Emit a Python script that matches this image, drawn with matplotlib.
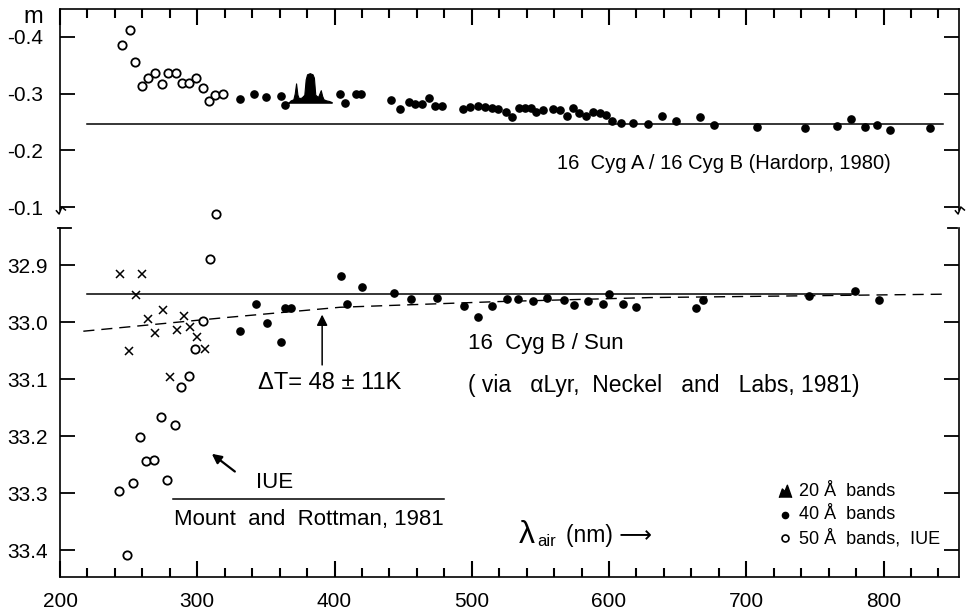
import matplotlib
matplotlib.use("Agg")
import matplotlib.pyplot as plt

plt.rcParams['font.family'] = ['Liberation Sans', 'DejaVu Sans']
plt.rcParams.update({
    'xtick.direction': 'in', 'ytick.direction': 'in',
    'ytick.major.size': 11, 'ytick.major.width': 1.3,
    'xtick.labelsize': 15, 'ytick.labelsize': 15,
})

# ---- upper panel: 16 Cyg A / 16 Cyg B ----
top_open_wl = [245, 251, 255, 260, 264, 269, 274, 279, 284.5, 289, 294, 299, 304, 308.5, 313, 319]
top_open_m = [-0.385, -0.412, -0.356, -0.314, -0.327, -0.336, -0.317, -0.337, -0.337, -0.318,
              -0.319, -0.327, -0.309, -0.287, -0.298, -0.299]

top_fill_wl = [331, 341.5, 350, 361, 364, 404, 408, 415.5, 419.5, 441.5, 448, 454, 459, 463.5,
               468.5, 473.5, 478.5, 493.5, 499, 504.5, 509.5, 514.5, 519, 525, 529.5, 534.5,
               538.5, 543, 547, 552, 559.5, 564, 569.5, 573.5, 578.5, 583, 588.5, 593.5, 597.5,
               602.5, 609, 617.5, 628.5, 638.5, 648.5, 666, 676.5, 708, 742.5, 766, 776.5,
               786.5, 795.5, 805, 834]
top_fill_m = [-0.290, -0.299, -0.294, -0.296, -0.280, -0.299, -0.284, -0.299, -0.299, -0.289,
              -0.272, -0.285, -0.281, -0.282, -0.292, -0.278, -0.278, -0.273, -0.276, -0.279,
              -0.277, -0.274, -0.272, -0.268, -0.258, -0.275, -0.274, -0.275, -0.267, -0.271,
              -0.272, -0.271, -0.261, -0.274, -0.265, -0.261, -0.268, -0.265, -0.262, -0.252,
              -0.248, -0.248, -0.247, -0.261, -0.252, -0.258, -0.244, -0.242, -0.240, -0.243,
              -0.255, -0.241, -0.245, -0.236, -0.240]

# 20 A bands profile
band_wl = [366, 368, 370, 371, 372, 373, 374, 376, 378, 379, 380, 382, 384, 385, 386, 388,
           389, 390, 391, 392, 394, 396, 398]
band_m = [-0.283, -0.288, -0.290, -0.300, -0.318, -0.298, -0.292, -0.293, -0.298, -0.325,
          -0.334, -0.336, -0.334, -0.328, -0.298, -0.294, -0.300, -0.306, -0.296, -0.290,
          -0.288, -0.287, -0.285]
band_base = -0.284

top_ref_wl = [220, 843]
top_ref_m = [-0.246, -0.246]

# ---- lower panel: 16 Cyg B / Sun ----
cross_wl = [244, 259.5, 255.5, 264, 275, 290, 269.5, 285, 294.5, 299.5, 250.5, 305.5, 280]
cross_m = [32.915, 32.915, 32.953, 32.995, 32.978, 32.989, 33.020, 33.014, 33.008, 33.026,
           33.050, 33.048, 33.096]

iue_wl = [314, 309, 304, 298.5, 294, 288, 273.5, 284, 258.5, 263, 268.5, 253.5, 278, 243, 248.5]
iue_m = [32.810, 32.890, 32.998, 33.048, 33.095, 33.113, 33.166, 33.181, 33.202, 33.243,
         33.242, 33.282, 33.277, 33.296, 33.409]

sun_wl = [331, 343, 350.5, 361, 364, 368, 405, 409, 420, 443, 455.5, 475, 494.5, 504.5, 514.5,
          525.5, 534, 544.5, 554.5, 567, 574.5, 584.5, 595.5, 600, 610, 619.5, 663.5, 668.5,
          745.5, 779.5, 797]
sun_m = [33.015, 32.969, 33.002, 33.035, 32.976, 32.976, 32.919, 32.968, 32.938, 32.949,
         32.959, 32.957, 32.972, 32.991, 32.971, 32.960, 32.960, 32.963, 32.957, 32.961,
         32.970, 32.963, 32.968, 32.951, 32.968, 32.974, 32.976, 32.961, 32.954, 32.946, 32.961]

sun_ref_wl = [220, 780]
sun_ref_m = [32.950, 32.950]
fit_wl = [217, 321, 404, 520, 630, 846]
fit_m = [33.016, 32.992, 32.974, 32.964, 32.957, 32.951]

mount_wl = [282, 480]
mount_m = [33.310, 33.310]

xticks = [200, 300, 400, 500, 600, 700, 800]
xticks_minor = [220, 240, 260, 280, 320, 340, 360, 380, 420, 440, 460, 480, 520, 540, 560, 580,
                620, 640, 660, 680, 720, 740, 760, 780, 820, 840]
top_yticks = [-0.4, -0.3, -0.2, -0.1]
top_ylabels = ['-0.4', '-0.3', '-0.2', '-0.1']
bot_yticks = [32.9, 33.0, 33.1, 33.2, 33.3, 33.4]
bot_ylabels = ['32.9', '33.0', '33.1', '33.2', '33.3', '33.4']

W, H = 966, 616
top_h, bot_h = 201, 349
fig = plt.figure(figsize=(W / 100, H / 100), dpi=100)
ax_top = fig.add_axes([60 / W, 1 - 210 / H, 899 / W, top_h / H])
ax_bot = fig.add_axes([60 / W, 1 - 577 / H, 899 / W, bot_h / H])

# upper panel
ax_top.plot(top_ref_wl, top_ref_m, color='black', lw=1.1)
ax_top.fill_between(band_wl, band_m, band_base, color='black', lw=0.8)
ax_top.plot(top_open_wl, top_open_m, 'o', ms=6, mfc='white', mec='black', mew=1.3)
ax_top.plot(top_fill_wl, top_fill_m, 'o', ms=5.2, color='black')
ax_top.text(562, -0.177, '16  Cyg A / 16 Cyg B (Hardorp, 1980)', fontsize=14.5, va='center')

# lower panel
ax_bot.plot(sun_ref_wl, sun_ref_m, color='black', lw=1.1)
ax_bot.plot(fit_wl, fit_m, color='black', lw=1.0, dashes=(8, 5))
ax_bot.plot(cross_wl, cross_m, 'x', ms=5.5, mew=1.1, color='black')
ax_bot.plot(iue_wl, iue_m, 'o', ms=6, mfc='white', mec='black', mew=1.3, clip_on=False)
ax_bot.plot(sun_wl, sun_m, 'o', ms=5.2, color='black')
ax_bot.plot(mount_wl, mount_m, color='black', lw=1.1)

ax_bot.annotate('', xy=(391, 32.982), xytext=(391, 33.080),
                arrowprops=dict(arrowstyle='-|>', color='black', lw=1.1, mutation_scale=16))
ax_bot.text(344, 33.107, '\u0394T= 48 \u00b1 11K', fontsize=17, va='center')
ax_bot.text(497, 33.038, '16  Cyg B / Sun', fontsize=16, va='center')
ax_bot.text(497, 33.111, '( via   \u03b1Lyr,  Neckel   and   Labs, 1981)', fontsize=16.5,
            va='center')
ax_bot.annotate('', xy=(309, 33.228), xytext=(329, 33.265),
                arrowprops=dict(arrowstyle='-|>', color='black', lw=1.6, mutation_scale=14))
ax_bot.text(356, 33.281, 'IUE', fontsize=16, va='center', ha='center')
ax_bot.text(381, 33.347, 'Mount  and  Rottman, 1981', fontsize=16, va='center', ha='center')
ax_bot.text(0.51, 0.12, '\u03bb', fontsize=23, transform=ax_bot.transAxes, va='center')
ax_bot.text(0.531, 0.103, 'air', fontsize=12, transform=ax_bot.transAxes, va='center')
ax_bot.text(0.563, 0.12, '(nm) \u27f6', fontsize=16.5, transform=ax_bot.transAxes, va='center')

# legend
ax_bot.plot([0.806], [0.246], marker=[(-1, -1), (-0.5, 0.4), (-0.1, 0.0), (0.3, 1), (1, -1)],
            ms=9, color='black', transform=ax_bot.transAxes)
ax_bot.plot([0.806], [0.178], 'o', ms=4.5, color='black', transform=ax_bot.transAxes)
ax_bot.plot([0.806], [0.112], 'o', ms=5, mfc='white', mec='black', mew=1.2,
            transform=ax_bot.transAxes)
ax_bot.text(0.822, 0.246, '20 \u00c5  bands', fontsize=13, transform=ax_bot.transAxes, va='center')
ax_bot.text(0.822, 0.178, '40 \u00c5  bands', fontsize=13, transform=ax_bot.transAxes, va='center')
ax_bot.text(0.822, 0.112, '50 \u00c5  bands,  IUE', fontsize=13, transform=ax_bot.transAxes,
            va='center')

fig.text(33 / W, 1 - 17 / H, 'm', fontsize=17, ha='center', va='center')

# axes styling
ax_top.set_ylim(-0.095, -0.449)
ax_bot.set_ylim(33.447, 32.835)
for ax in (ax_top, ax_bot):
    ax.set_xlim(200, 855)
    ax.set_xticks(xticks)
    for s in ax.spines.values():
        s.set_linewidth(1.2)
    ax.yaxis.set_ticks_position('both')
    ax.tick_params(axis='y', pad=38)
    ax.tick_params(axis='x', length=0)

ax_top.spines['bottom'].set_visible(False)
ax_top.tick_params(axis='x', labeltop=False, labelbottom=False)
ax_top.set_yticks(top_yticks, top_ylabels)

ax_bot.spines['top'].set_visible(False)
ax_bot.tick_params(axis='x', pad=11)
ax_bot.set_yticks(bot_yticks, bot_ylabels)

for ax in (ax_top, ax_bot):
    for lab in ax.get_yticklabels():
        lab.set_horizontalalignment('left')

# x tick marks drawn inward: 16 px for major, 9 px for minor
ax_top.vlines(xticks, 1 - 16 / top_h, 1, color='black', lw=1.5,
              transform=ax_top.get_xaxis_transform(), clip_on=False)
ax_top.vlines(xticks_minor, 1 - 9 / top_h, 1, color='black', lw=1.5,
              transform=ax_top.get_xaxis_transform(), clip_on=False)
ax_bot.vlines(xticks, 0, 16 / bot_h, color='black', lw=1.5,
              transform=ax_bot.get_xaxis_transform(), clip_on=False)
ax_bot.vlines(xticks_minor, 0, 9 / bot_h, color='black', lw=1.5,
              transform=ax_bot.get_xaxis_transform(), clip_on=False)

# axis break marks
for x0 in (0.0, 1.0):
    ax_top.plot([x0 - 0.004, x0 - 0.001, x0 + 0.002, x0 + 0.006], [-0.004, -0.02, 0.015, 0.0],
                color='black', lw=1.1, transform=ax_top.transAxes, clip_on=False)
    ax_bot.plot([x0 - 0.002, x0 + 0.012 * (1 - 2 * x0)], [1, 1], color='black', lw=1.3,
                transform=ax_bot.transAxes, clip_on=False)

fig.savefig('out.png', dpi=100)
